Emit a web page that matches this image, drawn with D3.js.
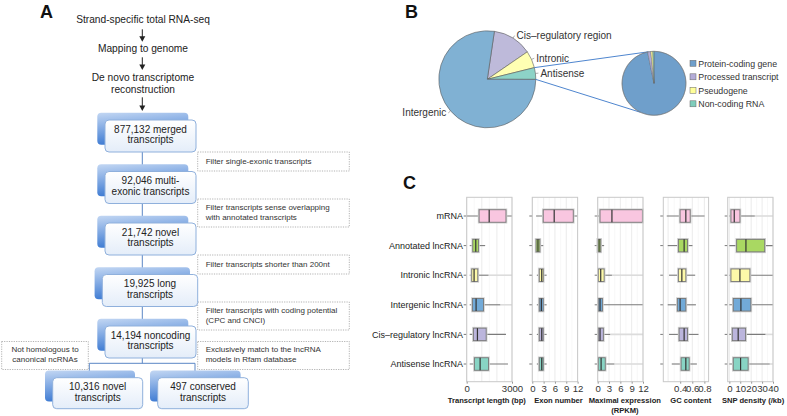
<!DOCTYPE html>
<html><head><meta charset="utf-8">
<script src="https://cdn.jsdelivr.net/npm/d3@7"></script>
<style>body{margin:0;background:#fff} svg{display:block;font-family:"Liberation Sans",Arial,Helvetica,sans-serif}</style>
</head><body><svg id="c" width="787" height="416"></svg>
<script>
// ---------------- DATA ----------------
// Panel A: pipeline
const pipelineSteps = [["Strand-specific total RNA-seq"], ["Mapping to genome"], ["De novo transcriptome", "reconstruction"]];
const stageLabels = [["877,132 merged", "transcripts"], ["92,046 multi-", "exonic transcripts"], ["21,742 novel", "transcripts"], ["19,925 long", "transcripts"], ["14,194 noncoding", "transcripts"]];
const filterLabels = [["Filter single-exonic  transcripts"], ["Filter transcripts sense overlapping", "with annotated transcripts"], ["Filter transcripts shorter than 200nt"], ["Filter transcripts with coding potential", "(CPC and CNCI)"]];
const branchFilters = [["Not homologous to", "canonical ncRNAs"], ["Exclusively match to the lncRNA", "models in Rfam database"]];
const finalLabels = [["10,316 novel", "transcripts"], ["497 conserved", "transcripts"]];

// Panel B: pies (percent)
const genomicClasses = ["Cis\u2013regulatory region", "Intronic", "Antisense", "Intergenic"];
const genomicShares = [13.1, 5.7, 3.9, 77.3];
const genomicColors = ["#bebada", "#ffffb3", "#8dd3c7", "#80b1d3"];
const overlapClasses = ["Protein-coding gene", "Processed transcript", "Pseudogene", "Non-coding RNA"];
const overlapShares = [96.8, 1.6, 1.0, 0.6];
const overlapColors = ["#6f9fcb", "#b4acd8", "#ffff99", "#7fcdbb"];

// Panel C: boxplots  [low whisker, Q1, median, Q3, high whisker, outlier tail]
const rnaTypes = ["mRNA", "Annotated lncRNA", "Intronic lncRNA", "Intergenic lncRNA", "Cis\u2013regulatory lncRNA", "Antisense lncRNA"];
const rnaColors = ["#f9c6e0", "#a9d862", "#fdf9a9", "#72aad8", "#bbb5dc", "#88d4c4"];
const metricTitles = [["Transcript length (bp)"], ["Exon number"], ["Maximal expression", "(RPKM)"], ["GC content"], ["SNP density (/kb)"]];
const metricDomains = [[0, 3000], [0, 12], [0, 12], [0.12, 0.87], [-1.5, 40]];
const metricTicks = [[0, 3000], [0, 3, 6, 9, 12], [0, 3, 6, 9, 12], [0.4, 0.6, 0.8], [0, 10, 20, 30, 40]];
const metricGrid = [[0, 1000, 2000, 3000], [0, 3, 6, 9, 12], [0, 3, 6, 9, 12], [0.2, 0.4, 0.6, 0.8], [0, 10, 20, 30, 40]];
const lengthStats = [
  [0, 822, 1489, 2600, 3000, null],
  [200, 400, 600, 778, 1222, null],
  [200, 333, 489, 733, 1444, 3000],
  [200, 378, 622, 1111, 2222, 3000],
  [200, 444, 711, 1289, 2600, null],
  [200, 511, 889, 1444, 2733, null]];
const exonStats = [
  [1, 2.9, 5.8, 10.85, 12, null],
  [1, 1, 1.5, 2, 2.9, null],
  [1.2, 1.85, 2.5, 2.9, 3.8, null],
  [1.2, 1.85, 2.4, 2.9, 3.8, null],
  [1.2, 1.85, 2.5, 2.9, 3.8, null],
  [1.2, 1.85, 2.5, 2.9, 3.8, null]];
const exprStats = [
  [0, 0.62, 3.77, 11.84, 12, null],
  [0, 0, 0.35, 0.8, 1.7, null],
  [0, 0.17, 0.8, 1.7, 3.77, 12],
  [0, 0.17, 0.62, 1.25, 12, null],
  [0, 0.17, 0.62, 1.5, 3.3, 12],
  [0, 0.17, 0.9, 2.0, 4.4, 12]];
const gcStats = [
  [0.177, 0.398, 0.493, 0.565, 0.803, null],
  [0.193, 0.37, 0.465, 0.52, 0.603, null],
  [0.215, 0.37, 0.427, 0.493, 0.648, null],
  [0.193, 0.353, 0.398, 0.493, 0.66, null],
  [0.215, 0.382, 0.465, 0.52, 0.703, null],
  [0.26, 0.415, 0.493, 0.548, 0.676, null]];
const snpStats = [
  [0, 1.5, 4.5, 9.7, 23.3, 40],
  [0, 6.7, 15.2, 32.4, 40, null],
  [0, 1.5, 9.7, 18.8, 40, null],
  [0, 3.6, 10.6, 19.7, 40, null],
  [0, 2.7, 8.1, 14.9, 33.1, 40],
  [0, 3.6, 10.3, 17.2, 37, 40]];
const allStats = [lengthStats, exonStats, exprStats, gcStats, snpStats];

// ---------------- DRAWING ----------------
const svg = d3.select("#c");
const defs = svg.append("defs");
const bg = defs.append("linearGradient").attr("id", "backGrad").attr("x1", 0).attr("y1", 0).attr("x2", 0.25).attr("y2", 1);
bg.append("stop").attr("offset", 0).attr("stop-color", "#c3d7f3");
bg.append("stop").attr("offset", 1).attr("stop-color", "#3b79d2");
const fg = defs.append("linearGradient").attr("id", "frontGrad").attr("x1", 0).attr("y1", 0).attr("x2", 0).attr("y2", 1);
fg.append("stop").attr("offset", 0).attr("stop-color", "#ffffff");
fg.append("stop").attr("offset", 1).attr("stop-color", "#e4edf9");

// panel letters
const letters = [["A", 40, 18], ["B", 405, 18], ["C", 403, 189]];
svg.selectAll("text.letter").data(letters).join("text").attr("class", "letter")
  .attr("x", d => d[1]).attr("y", d => d[2]).text(d => d[0])
  .attr("font-size", 18).attr("font-weight", "bold").attr("fill", "#111");

// ---- Panel A ----
const A = svg.append("g").attr("fill", "#222");
const cx = 142.3;
const stepBase = [22.7, 52.3, 81];
pipelineSteps.forEach((lines, i) => {
  lines.forEach((t, k) => A.append("text").attr("x", 143).attr("y", stepBase[i] + k * 12.3)
    .attr("text-anchor", "middle").attr("font-size", 10.2).text(t));
});
const arrows = [[29.3, 41.7], [57.3, 70], [97.3, 111]];
arrows.forEach(([y0, y1]) => {
  A.append("line").attr("x1", cx).attr("x2", cx).attr("y1", y0).attr("y2", y1 - 4).attr("stroke", "#222").attr("stroke-width", 1);
  A.append("path").attr("d", `M${cx},${y1} L${cx - 3},${y1 - 5.5} L${cx + 3},${y1 - 5.5} Z`).attr("fill", "#222");
});

const stageY = d3.scaleLinear().domain([0, stageLabels.length - 1]).range([120, 326]);
const boxH = 32;
A.append("line").attr("x1", cx).attr("x2", cx).attr("y1", stageY(0) + boxH).attr("y2", stageY(4) + 20).attr("stroke", "#5a86c5").attr("stroke-width", 1);
A.append("path").attr("d", `M${cx},${stageY(4) + boxH} V363.3 M89.3,378 V363.3 H195 V378`).attr("fill", "none").attr("stroke", "#5a86c5").attr("stroke-width", 1);

function drawStage(x, y, w, h, lines) {
  A.append("rect").attr("x", x - 7.7).attr("y", y - 7.3).attr("width", w).attr("height", h).attr("rx", 4).attr("fill", "url(#backGrad)");
  A.append("rect").attr("x", x).attr("y", y).attr("width", w).attr("height", h).attr("rx", 4)
    .attr("fill", "url(#frontGrad)").attr("stroke", "#8fb0dc").attr("stroke-width", 1);
  lines.forEach((t, k) => A.append("text").attr("x", x + w / 2).attr("y", y + h / 2 - 3.3 + k * 10.6)
    .attr("text-anchor", "middle").attr("font-size", 10).text(t));
}
function drawFilter(x, cy, w, lines, anchor) {
  const h = lines.length === 1 ? 19 : 28;
  A.append("rect").attr("x", x).attr("y", cy - h / 2).attr("width", w).attr("height", h)
    .attr("fill", "#fff").attr("stroke", "#a0a0a0").attr("stroke-width", 0.8).attr("stroke-dasharray", "1.2,1.2");
  lines.forEach((t, k) => {
    const yy = lines.length === 1 ? cy + 2.8 : cy - 3.2 + k * 10;
    A.append("text").attr("x", anchor === "middle" ? x + w / 2 : x + 8).attr("y", yy)
      .attr("text-anchor", anchor).attr("font-size", 8).attr("fill", "#333").text(t);
  });
}
filterLabels.forEach((lines, i) => drawFilter(197.7, stageY(i) + boxH + 9.5, 151.6, lines, "start"));
drawFilter(1.7, 355.5, 86.6, branchFilters[0], "middle");
drawFilter(197.7, 355.5, 151.6, branchFilters[1], "start");
stageLabels.forEach((lines, i) => {
  const wide = i === 3;
  drawStage(wide ? 102.3 : 105, stageY(i), wide ? 95.4 : 91, boxH, lines);
});
drawStage(52.7, 377.7, 90, 31, finalLabels[0]);
drawStage(157.7, 377.7, 90.6, 31, finalLabels[1]);

// ---- Panel B ----
const B = svg.append("g");
const deg = Math.PI / 180;
const c1 = [487.3, 79.3], r1 = 48.5, c2 = [654, 83.3], r2 = 32;
const a0 = 8.4 * deg;
const mainPie = d3.pie().sort(null).startAngle(a0).endAngle(a0 + 2 * Math.PI)(genomicShares);
const arc1 = d3.arc().innerRadius(0).outerRadius(r1);
const g1 = B.append("g").attr("transform", `translate(${c1})`);
g1.selectAll("path").data(mainPie).join("path").attr("d", arc1)
  .attr("fill", (d, i) => genomicColors[i]).attr("stroke", "#5a5a5a").attr("stroke-width", 0.6);
mainPie.forEach((d, i) => {
  const m = (d.startAngle + d.endAngle) / 2;
  const px = r => Math.sin(m) * r, py = r => -Math.cos(m) * r;
  const right = Math.sin(m) > 0;
  g1.append("line").attr("x1", px(r1)).attr("y1", py(r1)).attr("x2", px(r1 + 3)).attr("y2", py(r1 + 3)).attr("stroke", "#777").attr("stroke-width", 0.6);
  g1.append("text").attr("x", px(r1 + 3) + (right ? 2 : -2)).attr("y", py(r1 + 3) + 3.5)
    .attr("text-anchor", right ? "start" : "end").attr("font-size", 10).attr("fill", "#333").text(genomicClasses[i]);
});
const anti = mainPie[2];
const pt = (c, r, a) => [c[0] + Math.sin(a) * r, c[1] - Math.cos(a) * r];
const s0 = pt(c1, r1, anti.startAngle), s1 = pt(c1, r1, anti.endAngle);
const e0 = pt(c2, r2, -10 * deg), e1 = pt(c2, r2, 205 * deg);
B.append("line").attr("x1", s0[0]).attr("y1", s0[1]).attr("x2", e0[0]).attr("y2", e0[1]).attr("stroke", "#4f86cf").attr("stroke-width", 1);
B.append("line").attr("x1", s1[0]).attr("y1", s1[1]).attr("x2", e1[0]).attr("y2", e1[1]).attr("stroke", "#4f86cf").attr("stroke-width", 1);

const subPie = d3.pie().sort(null)(overlapShares);
const arc2 = d3.arc().innerRadius(0).outerRadius(r2);
const g2 = B.append("g").attr("transform", `translate(${c2})`);
g2.selectAll("path").data(subPie).join("path").attr("d", arc2)
  .attr("fill", (d, i) => overlapColors[i]).attr("stroke", "#666").attr("stroke-width", 0.4);
g2.append("circle").attr("r", r2).attr("fill", "none").attr("stroke", "#777").attr("stroke-width", 0.5);

const legY = d3.scalePoint().domain(overlapClasses).range([63.3, 103.8]);
const leg = B.append("g");
overlapClasses.forEach((name, i) => {
  leg.append("rect").attr("x", 690).attr("y", legY(name) - 3).attr("width", 6).attr("height", 6)
    .attr("fill", overlapColors[i]).attr("stroke", "#666").attr("stroke-width", 0.5);
  leg.append("text").attr("x", 698.3).attr("y", legY(name) + 3.2).attr("font-size", 8.8).attr("fill", "#333").text(name);
});

// ---- Panel C ----
const C = svg.append("g");
const panelLeft = [466.7, 532.3, 597.7, 663.3, 727.7];
const titleShift = [-2.5, 3.5, 4.5, 4.8, 2.7];
const panelW = 45.3;
const pTop = 197.3, pBottom = 381.7;
const yRow = d3.scalePoint().domain(rnaTypes).range([216, 364]);
const bh = 12.5;

allStats.forEach((stats, m) => {
  const x0 = panelLeft[m];
  const x = d3.scaleLinear().domain(metricDomains[m]).range([x0, x0 + panelW]);
  const g = C.append("g");
  g.append("rect").attr("x", x0).attr("y", pTop).attr("width", panelW).attr("height", pBottom - pTop).attr("fill", "#fff");
  const major = metricGrid[m];
  const minor = d3.pairs(major).map(([a, b]) => (a + b) / 2);
  g.selectAll("line.minor").data(minor).join("line").attr("class", "minor").attr("x1", d => x(d)).attr("x2", d => x(d))
    .attr("y1", pTop).attr("y2", pBottom).attr("stroke", "#f3f3f3").attr("stroke-width", 0.6);
  g.selectAll("line.major").data(major).join("line").attr("class", "major").attr("x1", d => x(d)).attr("x2", d => x(d))
    .attr("y1", pTop).attr("y2", pBottom).attr("stroke", "#e6e6e6").attr("stroke-width", 0.8);
  rnaTypes.forEach((t, i) => {
    const [lo, q1, md, q3, hi, tail] = stats[i];
    const y = yRow(t);
    g.append("line").attr("x1", x0 - 3).attr("x2", x0).attr("y1", y).attr("y2", y).attr("stroke", "#555").attr("stroke-width", 0.8);
    if (tail !== null) g.append("line").attr("x1", x(hi)).attr("x2", x(tail)).attr("y1", y).attr("y2", y).attr("stroke", "#dcdcdc").attr("stroke-width", 1.6);
    g.append("line").attr("x1", x(lo)).attr("x2", x(hi)).attr("y1", y).attr("y2", y).attr("stroke", "#7a7a7a").attr("stroke-width", 1.1);
    g.append("rect").attr("x", x(q1)).attr("y", y - bh / 2).attr("width", x(q3) - x(q1)).attr("height", bh)
      .attr("fill", rnaColors[i]).attr("stroke", "#d2d2d2").attr("stroke-width", 2.6);
    g.append("rect").attr("x", x(q1)).attr("y", y - bh / 2).attr("width", x(q3) - x(q1)).attr("height", bh)
      .attr("fill", rnaColors[i]).attr("stroke", "#777").attr("stroke-width", 0.9);
    g.append("line").attr("x1", x(md)).attr("x2", x(md)).attr("y1", y - bh / 2).attr("y2", y + bh / 2).attr("stroke", "#333").attr("stroke-width", 1.2);
  });
  g.append("rect").attr("x", x0).attr("y", pTop).attr("width", panelW).attr("height", pBottom - pTop)
    .attr("fill", "none").attr("stroke", "#c9c9c9").attr("stroke-width", 1);
  const ax = g.append("g").attr("transform", `translate(0,${pBottom})`)
    .call(d3.axisBottom(x).tickValues(metricTicks[m]).tickSize(2).tickPadding(1.5).tickFormat(d3.format("")));
  ax.select(".domain").remove();
  ax.selectAll(".tick line").attr("stroke", "#999");
  ax.selectAll(".tick text").attr("font-size", 9.6).attr("fill", "#333").attr("font-family", null);
  metricTitles[m].forEach((t, k) => g.append("text").attr("x", x0 + panelW / 2 + titleShift[m]).attr("y", 402.7 + k * 10.3)
    .attr("text-anchor", "middle").attr("font-size", 7.6).attr("font-weight", "bold").attr("fill", "#222").text(t));
});
C.selectAll("text.row").data(rnaTypes).join("text").attr("class", "row")
  .attr("x", 463).attr("y", d => yRow(d) + 3.2).attr("text-anchor", "end")
  .attr("font-size", 9).attr("fill", "#222").text(d => d);
</script></body></html>
